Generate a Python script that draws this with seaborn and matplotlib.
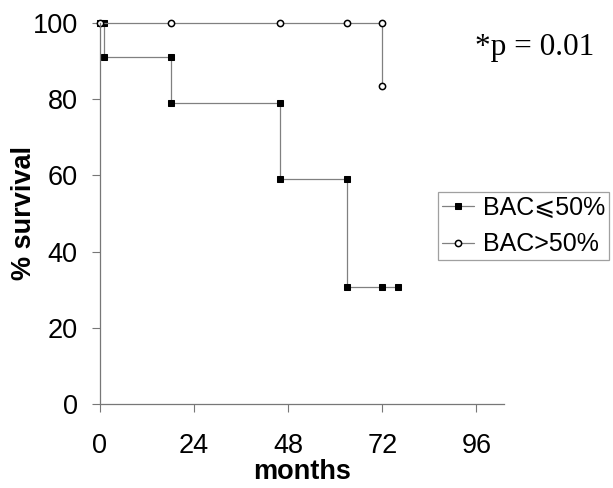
import pandas as pd
import numpy as np
import matplotlib
matplotlib.use("Agg")
import matplotlib.pyplot as plt
import seaborn as sns

# ----- Data -----
low_months = [0, 1, 1, 18, 18, 46, 46, 63, 63, 72, 76]
low_surv = [100, 100, 91, 91, 79, 79, 59, 59, 30.7, 30.7, 30.7]
high_months = [0, 18, 46, 63, 72, 72]
high_surv = [100, 100, 100, 100, 100, 83.4]
x_ticks = [0, 24, 48, 72, 96]
y_ticks = [0, 20, 40, 60, 80, 100]

sns.set_style("ticks", {'text.color': 'black', 'axes.labelcolor': 'black',
                        'xtick.color': 'black', 'ytick.color': 'black'})
plt.rcParams['font.family'] = ['Liberation Sans', 'DejaVu Sans']

fig = plt.figure(figsize=(6.13, 4.88), dpi=100)
ax = fig.add_axes([0.1631, 0.172, 0.659, 0.7815])

low = pd.DataFrame({'months': low_months, 'surv': low_surv})
high = pd.DataFrame({'months': high_months, 'surv': high_surv})

sns.lineplot(data=low, x='months', y='surv', sort=False, estimator=None, ax=ax,
             color='#808080', lw=0.9, marker='s', markersize=5,
             markerfacecolor='black', markeredgecolor='black',
             label='BAC\u2a7d50%', clip_on=False)
sns.lineplot(data=high, x='months', y='surv', sort=False, estimator=None, ax=ax,
             color='#808080', lw=0.9, marker='o', markersize=4.5,
             markerfacecolor='white', markeredgecolor='black', markeredgewidth=1.1,
             label='BAC>50%', clip_on=False)

ax.set_xlim(0, 103)
ax.set_ylim(0, 100)
ax.set_xticks(x_ticks)
ax.set_yticks(y_ticks)
ax.tick_params(labelsize=19.5, length=6, width=0.8, color='#777777',
               labelcolor='black', direction='out')
ax.tick_params(axis='y', pad=10)
ax.tick_params(axis='x', pad=15)
sns.despine(ax=ax)
for s in ['left', 'bottom']:
    ax.spines[s].set_color('#777777')
    ax.spines[s].set_linewidth(0.9)

ax.set_xlabel('months', fontsize=19.5, fontweight='bold', labelpad=0)
ax.set_ylabel('% survival', fontsize=19.5, fontweight='bold', labelpad=-3)

fig.text(0.775, (488 - 55) / 488, '*p = 0.01', family='Liberation Serif',
         fontsize=22.5, va='baseline', color='black')

leg = ax.legend(loc='center left', bbox_to_anchor=(438 / 613, (488 - 226) / 488),
                bbox_transform=fig.transFigure, fontsize=18, frameon=True,
                fancybox=False, edgecolor='#888888', handlelength=1.3,
                handletextpad=0.35, borderpad=0.15, labelspacing=0.5,
                borderaxespad=0)
leg.get_frame().set_linewidth(0.9)
for t in leg.get_texts():
    t.set_color('black')

fig.savefig('out.png', dpi=100)
